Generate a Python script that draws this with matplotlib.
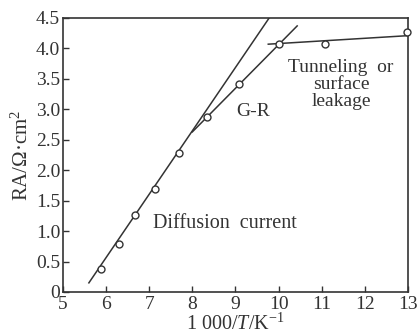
import matplotlib
matplotlib.use("Agg")
import matplotlib.pyplot as plt

plt.rcParams['font.family'] = ['Liberation Serif', 'DejaVu Serif']
plt.rcParams['mathtext.fontset'] = 'custom'
plt.rcParams['mathtext.rm'] = 'Liberation Serif'
plt.rcParams['mathtext.it'] = 'Liberation Serif:italic'

# data points
x_pts = [5.88, 6.3, 6.67, 7.13, 7.69, 8.34, 9.08, 10.0, 11.08, 12.98]
y_pts = [0.38, 0.79, 1.26, 1.69, 2.28, 2.87, 3.42, 4.07, 4.07, 4.27]

# fitted lines (end points)
diff_x = [5.6, 9.78]
diff_y = [0.15, 4.5]
gr_x = [8.0, 10.43]
gr_y = [2.63, 4.37]
tun_x = [9.76, 13.0]
tun_y = [4.07, 4.21]

xticks = [5, 6, 7, 8, 9, 10, 11, 12, 13]
yticks = [0, 0.5, 1.0, 1.5, 2.0, 2.5, 3.0, 3.5, 4.0, 4.5]
ytick_labels = ['0', '0.5', '1.0', '1.5', '2.0', '2.5', '3.0', '3.5', '4.0', '4.5']

c = '#333333'
fig = plt.figure(figsize=(4.17, 3.35), dpi=100)
ax = fig.add_axes([63/417, 1-292/335, (408-63)/417, (292-18)/335])

ax.plot(diff_x, diff_y, color=c, lw=1.1)
ax.plot(gr_x, gr_y, color=c, lw=1.1)
ax.plot(tun_x, tun_y, color=c, lw=1.1)
ax.plot(x_pts, y_pts, 'o', ms=5, mfc='white', mec=c, mew=1.0, clip_on=False, zorder=5)

ax.set_xlim(5, 13)
ax.set_ylim(0, 4.5)
ax.set_xticks(xticks)
ax.set_yticks(yticks)
ax.set_yticklabels(ytick_labels)
ax.tick_params(direction='in', length=4, width=1, colors=c, labelsize=14, labelcolor=c)
ax.tick_params(axis='x', pad=3)
ax.tick_params(axis='y', pad=2)
for s in ax.spines.values():
    s.set_color(c)
    s.set_linewidth(1.2)

ax.set_xlabel(r'1 000/$T$/K$^{-1}$', fontsize=14.5, color=c, labelpad=0)
ax.set_ylabel(r'RA/Ω·cm$^{2}$', fontsize=15, color=c, labelpad=2)

ax.text(11.45, 3.4, 'Tunneling  or\nsurface\nleakage', ha='center', va='center',
        fontsize=14, color=c, linespacing=1.0)
ax.text(9.41, 2.96, 'G-R', ha='center', va='center', fontsize=14, color=c)
ax.text(8.76, 1.12, 'Diffusion  current', ha='center', va='center', fontsize=14.5, color=c)

fig.savefig('out.png', dpi=100)
